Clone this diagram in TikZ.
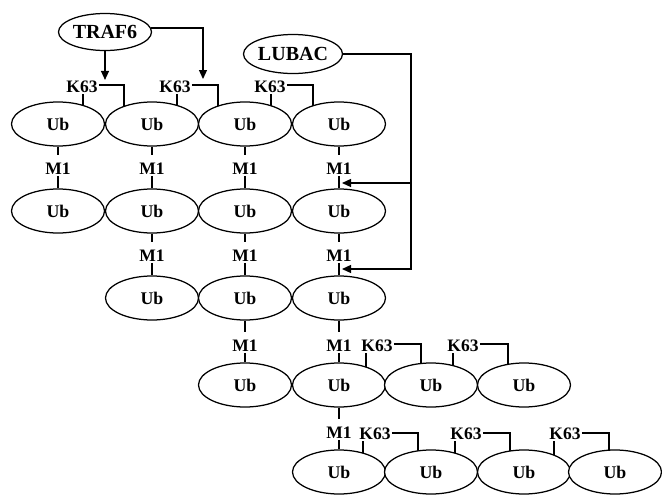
\documentclass[tikz,border=0pt]{standalone}
\usepackage{fontspec}
\setmainfont{Liberation Serif}
\usetikzlibrary{shapes.geometric,arrows.meta,backgrounds}
\begin{document}
\begin{tikzpicture}[x=1pt,y=-1pt,
  ub/.style={ellipse,draw,line width=1.25pt,fill=white,minimum width=93pt,
    minimum height=44pt,inner sep=0pt,font=\fontsize{17.8}{18}\selectfont\bfseries},
  enz/.style={ellipse,draw,line width=1.25pt,fill=white,minimum width=93pt,
    minimum height=37pt,inner sep=0pt,font=\fontsize{20}{20}\selectfont\bfseries},
  lnk/.style={inner sep=1pt,font=\fontsize{17.5}{18}\selectfont\bfseries},
  wire/.style={line width=1.25pt},
  arr/.style={wire,-{Triangle[length=9pt,width=8pt]}}]

\useasboundingbox (0,0) rectangle (662,496);

% ligases
\node[enz] (traf) at (105,32) {TRAF6};
\node[enz,minimum width=94pt,minimum height=39pt] (lubac) at (293,54) {LUBAC};

% ubiquitin units, row by row
\node[ub] (u11) at (58,124)  {Ub};
\node[ub] (u12) at (152,124) {Ub};
\node[ub] (u13) at (245,124) {Ub};
\node[ub] (u14) at (339,124) {Ub};

\node[ub] (u21) at (58,211)  {Ub};
\node[ub] (u22) at (152,211) {Ub};
\node[ub] (u23) at (245,211) {Ub};
\node[ub] (u24) at (339,211) {Ub};

\node[ub] (u32) at (152,298) {Ub};
\node[ub] (u33) at (245,298) {Ub};
\node[ub] (u34) at (339,298) {Ub};

\node[ub] (u43) at (245,385) {Ub};
\node[ub] (u44) at (339,385) {Ub};
\node[ub] (u45) at (431,385) {Ub};
\node[ub] (u46) at (524,385) {Ub};

\node[ub] (u54) at (339,472) {Ub};
\node[ub] (u55) at (431,472) {Ub};
\node[ub] (u56) at (524,472) {Ub};
\node[ub] (u57) at (615,472) {Ub};

% linear (M1) linkage labels
\node[lnk] (m1a) at (58,169)  {M1};
\node[lnk] (m1b) at (152,169) {M1};
\node[lnk] (m1c) at (245,169) {M1};
\node[lnk] (m1d) at (339,169) {M1};
\node[lnk] (m2b) at (152,256) {M1};
\node[lnk] (m2c) at (245,256) {M1};
\node[lnk] (m2d) at (339,256) {M1};
\node[lnk] (m3c) at (245,346) {M1};
\node[lnk] (m3d) at (339,346) {M1};
\node[lnk] (m4d) at (339,433) {M1};

% K63 linkage labels
\node[lnk] (k1a) at (82,87)   {K63};
\node[lnk] (k1b) at (175,87)  {K63};
\node[lnk] (k1c) at (270,87)  {K63};
\node[lnk] (k4a) at (377,346) {K63};
\node[lnk] (k4b) at (463,346) {K63};
\node[lnk] (k5a) at (375,434) {K63};
\node[lnk] (k5b) at (466,434) {K63};
\node[lnk] (k5c) at (565,434) {K63};

% free ends of the ligase arrows
\coordinate (t2) at (203,79);
\coordinate (j1) at (411,183);
\coordinate (j2) at (411,269);
\coordinate (l1) at (342,183);
\coordinate (l2) at (342,269);

\begin{scope}[on background layer]
  % M1 links
  \foreach \a/\m/\b in {u11/m1a/u21,u12/m1b/u22,u13/m1c/u23,u14/m1d/u24,
                        u22/m2b/u32,u23/m2c/u33,u24/m2d/u34,
                        u33/m3c/u43,u34/m3d/u44,u44/m4d/u54}{
    \draw[wire] (\a.south) -- ([yshift=7pt]\m.north);
    \draw[wire] (\m.south) -- (\b.north);
  }
  % K63 brackets
  \draw[wire] ([xshift=1pt]k1a.south) -- ++(0,25);
  \draw[wire] ([yshift=2pt]k1a.east) -| ([xshift=-28pt]u12.center);
  \draw[wire] ([xshift=2pt]k1b.south) -- ++(0,25);
  \draw[wire] ([yshift=2pt]k1b.east) -| ([xshift=-27pt]u13.center);
  \draw[wire] ([xshift=1pt]k1c.south) -- ++(0,25);
  \draw[wire] ([yshift=2pt]k1c.east) -| ([xshift=-26pt]u14.center);

  \draw[wire] ([xshift=-11pt]k4a.south) -- ++(0,25);
  \draw[wire] ([yshift=2pt]k4a.east) -| ([xshift=-10pt]u45.center);
  \draw[wire] ([xshift=-10pt]k4b.south) -- ++(0,25);
  \draw[wire] ([yshift=2pt]k4b.east) -| ([xshift=-16pt]u46.center);

  \draw[wire] ([xshift=-12pt]k5a.south) -- ++(0,25);
  \draw[wire] ([yshift=1pt]k5a.east) -| ([xshift=-13pt]u55.center);
  \draw[wire] ([xshift=-11pt]k5b.south) -- ++(0,25);
  \draw[wire] ([yshift=1pt]k5b.east) -| ([xshift=-14pt]u56.center);
  \draw[wire] ([xshift=-11pt]k5c.south) -- ++(0,25);
  \draw[wire] ([yshift=1pt]k5c.east) -| ([xshift=-6pt]u57.center);
\end{scope}

% TRAF6 arrows
\draw[arr] (traf.south) -- (traf.south |- k1a.north);
\draw[arr] (traf.5) -| (t2);

% LUBAC arrows
\draw[arr] (lubac.east) -| (j2) -- (l2);
\draw[arr] (j1) -- (l1);
\end{tikzpicture}
\end{document}
